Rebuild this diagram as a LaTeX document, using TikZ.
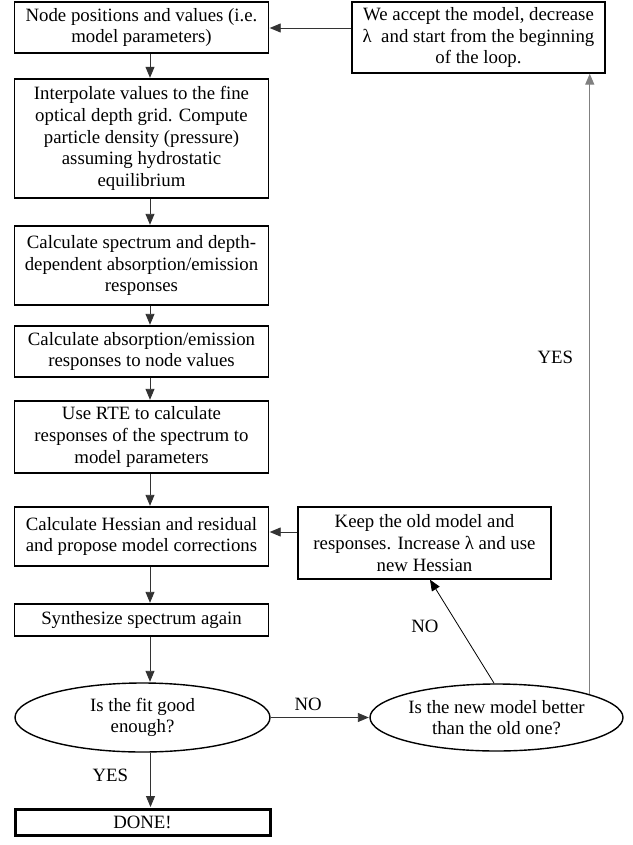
\documentclass[tikz,border=0pt]{standalone}
\usepackage{fontspec}
\setmainfont{Liberation Serif}
\usetikzlibrary{arrows.meta,shapes.geometric,calc}
\newcommand{\fs}{\fontsize{18.8}{21.7}\selectfont}
\begin{document}
\begin{tikzpicture}[x=1pt,y=-1pt,
  box/.style={draw, line width=1.4pt, align=center, inner sep=0pt, font=\fs, minimum width=254pt},
  oval/.style={draw, ellipse, line width=1.4pt, align=center, inner sep=0pt, font=\fs},
  lbl/.style={font=\fs, inner sep=0pt},
  conn/.style={line width=0.9pt, draw=black!80, -{Triangle[length=11pt,width=9pt]}, shorten >=0.5pt},
  greyconn/.style={line width=1.3pt, draw=black!50, -{Triangle[length=11pt,width=9pt]}},
]
\useasboundingbox (0,0) rectangle (632,845);
\fill[white] (0,0) rectangle (632,845);

\node[box, minimum height=51pt] (b1) at (141.5,27.5) {Node positions and values (i.e.\\model parameters)};
\node[box, minimum height=119pt] (b2) at (141.5,138.5) {Interpolate values to the fine\\optical depth grid. Compute\\particle density (pressure)\\assuming hydrostatic\\equilibrium};
\node[box, minimum height=79pt] (b3) at (141.5,265.5) {Calculate spectrum and depth-\\dependent absorption/emission\\responses};
\node[box, minimum height=51pt] (b4) at (141.5,351.5) {Calculate absorption/emission\\responses to node values};
\node[box, minimum height=72pt] (b5) at (141.5,437) {Use RTE to calculate\\responses of the spectrum to\\model parameters};
\node[box, minimum height=59pt] (b6) at (141.5,536.5) {Calculate Hessian and residual\\and propose model corrections};
\node[box, minimum height=32pt] (b7) at (141.5,620) {Synthesize spectrum again};
\node[oval, minimum width=255pt, minimum height=69pt] (e1) at (142.5,717.5) {Is the fit good\\enough?};
\node[box, line width=3pt, minimum width=255pt, minimum height=26pt] (done) at (142.5,822) {DONE!};
\node[oval, minimum width=253pt, minimum height=67pt] (e2) at (496.5,717.5) {Is the new model better\\than the old one?};
\node[box, minimum width=253pt, minimum height=71pt] (acc) at (478.5,37.5) {We accept the model, decrease\\λ\ \ and start from the beginning\\of the loop.};
\node[box, minimum width=253pt, minimum height=72pt] (keep) at (424.5,543) {Keep the old model and\\responses. Increase λ and use\\new Hessian};

\coordinate (ax) at (150,0);
\draw[conn] (b1.south -| ax) -- (b2.north -| ax);
\draw[conn] (b2.south -| ax) -- (b3.north -| ax);
\draw[conn] (b3.south -| ax) -- (b4.north -| ax);
\draw[conn] (b4.south -| ax) -- (b5.north -| ax);
\draw[conn] (b5.south -| ax) -- (b6.north -| ax);
\draw[conn] (b6.south -| ax) -- (b7.north -| ax);
\draw[conn] (b7.south -| ax) -- (e1.north -| ax);
\coordinate (dx) at (150.5,0);
\draw[conn] (e1.south -| dx) -- node[lbl, pos=0.42, left=22pt] {YES} (done.north -| dx);

\draw[conn] (e1.east) -- node[lbl, pos=0.38, above=6pt] {NO} (e2.west);
\coordinate (kb) at ($(keep.south)+(5.5,0)$);
\draw[line width=0.8pt, -{Triangle[length=11pt,width=9pt]}] (e2.94) -- node[lbl, pos=0.55, left=20pt] {NO} (kb);
\coordinate (ky) at (0,532);
\draw[conn] (keep.west |- ky) -- (b6.east |- ky);
\draw[greyconn] (e2.14.3) -- node[lbl, pos=0.543, left=16pt] {YES} (e2.14.3 |- acc.south);
\coordinate (ay) at (0,28);
\draw[conn] (acc.west |- ay) -- (b1.east |- ay);
\end{tikzpicture}
\end{document}
